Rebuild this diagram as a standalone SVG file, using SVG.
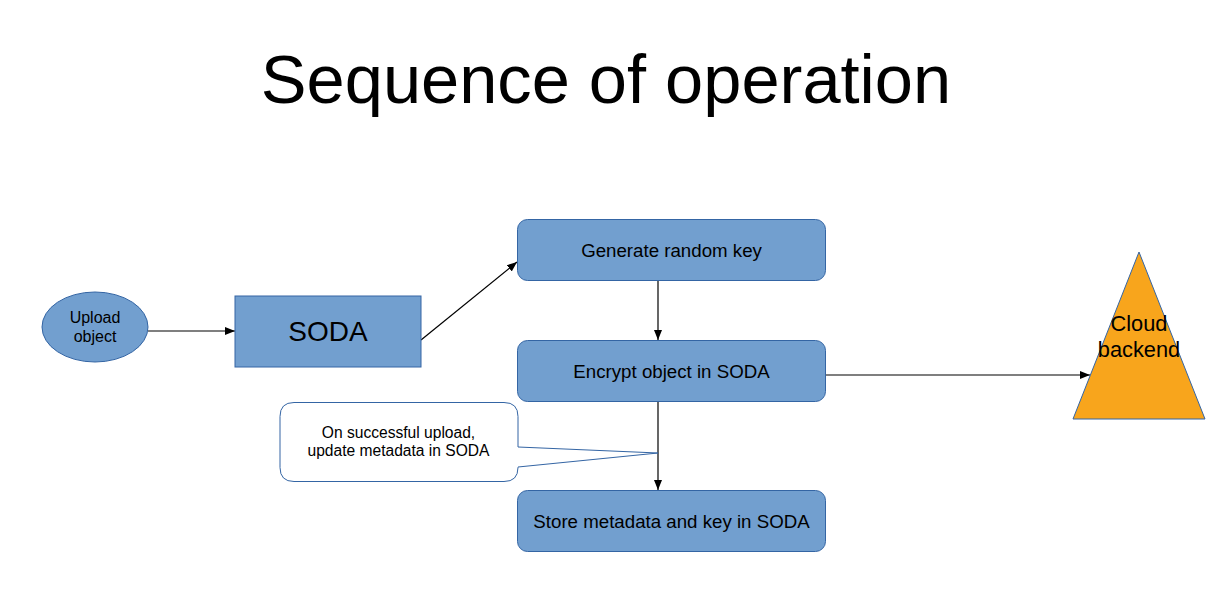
<svg xmlns="http://www.w3.org/2000/svg" width="1215" height="599" viewBox="0 0 1215 599">
<style>
.box{fill:#729fcf;stroke:#3465a4;stroke-width:1}
.t{font-family:"Liberation Sans",Arial,sans-serif;fill:#000;text-anchor:middle}
.c{stroke:#000;stroke-width:1.2;fill:none;marker-end:url(#ah)}
</style>
<defs>
<marker id="ah" viewBox="0 0 10 10" refX="10" refY="5" markerWidth="10" markerHeight="10" markerUnits="userSpaceOnUse" orient="auto">
<path d="M0,1 L10,5 L0,9 z" fill="#000"/>
</marker>
</defs>
<rect width="1215" height="599" fill="#fff"/>
<text class="t" x="606" y="103" font-size="68.6">Sequence of operation</text>
<g id="connectors">
<line class="c" x1="148" y1="331" x2="235" y2="331"/>
<line class="c" x1="421" y1="340" x2="517" y2="262"/>
<line class="c" x1="658" y1="281" x2="658" y2="340"/>
<line class="c" x1="826" y1="375" x2="1090" y2="375"/>
<line class="c" x1="658" y1="402" x2="658" y2="490"/>
</g>
<g id="upload">
<ellipse class="box" cx="95" cy="327" rx="53" ry="35"/>
<text class="t" x="95" y="323" font-size="16">Upload</text>
<text class="t" x="95" y="342" font-size="16">object</text>
</g>
<g id="soda">
<rect class="box" x="235" y="296" width="186" height="71"/>
<text class="t" x="328" y="341" font-size="28">SODA</text>
</g>
<g id="generate">
<rect class="box" x="517.5" y="219.5" width="308" height="61" rx="10"/>
<text class="t" x="671.5" y="257" font-size="18.7">Generate random key</text>
</g>
<g id="encrypt">
<rect class="box" x="517.5" y="340.5" width="308" height="61" rx="10"/>
<text class="t" x="671.5" y="378" font-size="18.7">Encrypt object in SODA</text>
</g>
<g id="store">
<rect class="box" x="517.5" y="490.5" width="308" height="61" rx="10"/>
<text class="t" x="671.5" y="528" font-size="18.7">Store metadata and key in SODA</text>
</g>
<g id="callout">
<path d="M294,402.5 H504 Q518,402.5 518,416.5 V447 L658,453 L518,467 V467.5 Q518,481.5 504,481.5 H294 Q280,481.5 280,467.5 V416.5 Q280,402.5 294,402.5 Z" fill="#fff" stroke="#3465a4" stroke-width="1"/>
<text class="t" x="398.5" y="438" font-size="15.6">On successful upload,</text>
<text class="t" x="398.5" y="456" font-size="15.6">update metadata in SODA</text>
</g>
<g id="cloud">
<polygon points="1139,252 1205,419 1073,419" fill="#f8a51c" stroke="#3465a4" stroke-width="1"/>
<text class="t" x="1139" y="331" font-size="21.8">Cloud</text>
<text class="t" x="1139" y="357" font-size="21.8">backend</text>
</g>
</svg>
